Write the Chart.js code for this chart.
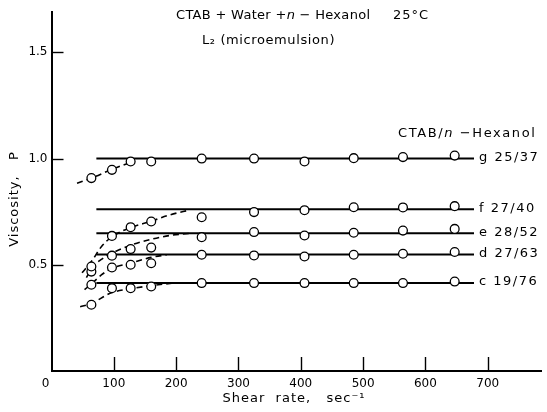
<!DOCTYPE html>
<html>
<head>
<meta charset="utf-8">
<title>Viscosity vs shear rate</title>
<script src="https://cdn.jsdelivr.net/npm/chart.js@4.4.1/dist/chart.umd.min.js"></script>
<style>
  html, body { margin: 0; padding: 0; background: #fff; }
  #chart { display: block; }
</style>
</head>
<body>
<canvas id="chart" width="547" height="412"></canvas>
<script>
// Data
const shearRates = [64, 97, 127, 160, 241, 325, 406, 485, 564, 647];
const viscG = [0.908, 0.947, 0.986, 0.986, 1.000, 1.000, 0.986, 1.002, 1.007, 1.014];
const viscF = [0.492, 0.636, 0.677, 0.704, 0.724, 0.748, 0.757, 0.771, 0.770, 0.776];
const viscE = [0.468, 0.543, 0.574, 0.581, 0.630, 0.654, 0.638, 0.651, 0.661, 0.669];
const viscD = [0.406, 0.487, 0.500, 0.507, 0.547, 0.544, 0.539, 0.547, 0.552, 0.560];
const viscC = [0.312, 0.390, 0.390, 0.398, 0.414, 0.414, 0.414, 0.414, 0.414, 0.421];

// Plateau levels (solid lines) and their extent
const seriesNames = ['g 25/37', 'f 27/40', 'e 28/52', 'd 27/63', 'c 19/76'];
const plateauLevels = [1.000, 0.761, 0.649, 0.548, 0.414];
const plateauRange = [72, 678];

// Hand-drawn dashed curves at low shear rate, [shear rate, viscosity]
const dashG = [[41, 0.884], [64, 0.908], [96, 0.948], [127, 0.982]];
const dashF = [[49, 0.462], [64, 0.515], [80, 0.585], [97, 0.632], [127, 0.675], [160, 0.705], [190, 0.735], [222, 0.758]];
const dashE = [[56, 0.440], [66, 0.490], [80, 0.525], [97, 0.555], [130, 0.595], [160, 0.620], [190, 0.638], [222, 0.648]];
const dashD = [[53, 0.383], [64, 0.410], [80, 0.452], [96, 0.482], [127, 0.508], [160, 0.535], [185, 0.547]];
const dashC = [[46, 0.302], [64, 0.318], [96, 0.368], [127, 0.387], [160, 0.402], [193, 0.413]];

// Axes
const xTicks = [0, 100, 200, 300, 400, 500, 600, 700];
const yTicks = [0.5, 1.0, 1.5];
const xMax = 786;
const yMax = 1.69;

const allVisc = [viscG, viscF, viscE, viscD, viscC];
const allDash = [dashG, dashF, dashE, dashD, dashC];

Chart.defaults.font.family = '"DejaVu Sans", sans-serif';
Chart.defaults.color = '#000';

// Build datasets
const datasets = [];
allVisc.forEach((vals) => {
    datasets.push({
        data: shearRates.map((x, i) => ({ x, y: vals[i] })),
        showLine: false,
        pointRadius: 4.4,
        pointBorderWidth: 1.3,
        pointBackgroundColor: '#fff',
        pointBorderColor: '#000',
        order: 0
    });
});
allDash.forEach((pts) => {
    datasets.push({
        data: pts.map(p => ({ x: p[0], y: p[1] })),
        showLine: true,
        borderColor: '#000',
        borderWidth: 1.6,
        borderDash: [6, 4],
        cubicInterpolationMode: 'monotone',
        pointRadius: 0,
        order: 1
    });
});
plateauLevels.forEach((lvl) => {
    datasets.push({
        data: plateauRange.map(x => ({ x, y: lvl })),
        showLine: true,
        borderColor: '#000',
        borderWidth: 2,
        pointRadius: 0,
        order: 2
    });
});

// Text helper: runs of [text, italic]
const drawRuns = (ctx, runs, x, y, size) => {
    let cx = x;
    runs.forEach(([t, it]) => {
        ctx.font = (it ? 'italic ' : '') + size + 'px "DejaVu Sans", sans-serif';
        ctx.fillText(t, cx, y);
        cx += ctx.measureText(t).width;
    });
};

const decorPlugin = {
    id: 'decor',
    afterDraw(chart) {
        const { ctx, scales: { x, y } } = chart;
        ctx.save();
        ctx.strokeStyle = '#000';
        ctx.lineWidth = 1.4;

        // inward tick marks
        xTicks.filter(v => v > 0).forEach(v => {
            const px = Math.round(x.getPixelForValue(v)) + 0.5;
            ctx.beginPath();
            ctx.moveTo(px, y.bottom);
            ctx.lineTo(px, y.bottom - 14);
            ctx.stroke();
        });
        yTicks.forEach(v => {
            const py = Math.round(y.getPixelForValue(v)) + 0.5;
            ctx.beginPath();
            ctx.moveTo(x.left, py);
            ctx.lineTo(x.left + 12, py);
            ctx.stroke();
        });

        ctx.fillStyle = '#000';
        ctx.textBaseline = 'middle';
        ctx.textAlign = 'left';

        // series labels at the end of each plateau line
        ctx.letterSpacing = '1.5px';
        ctx.font = '13px "DejaVu Sans", sans-serif';
        const lx = x.getPixelForValue(plateauRange[1]) + 5;
        seriesNames.forEach((name, i) => {
            ctx.fillText(name, lx, y.getPixelForValue(plateauLevels[i]) - 1);
        });

        // legend heading
        ctx.letterSpacing = '1.6px';
        drawRuns(ctx, [['CTAB/', false], ['n', true], [' −Hexanol', false]], 398, 134, 13);

        // title
        ctx.letterSpacing = '0.3px';
        drawRuns(ctx, [['CTAB + Water +', false], ['n', true], [' − Hexanol', false]], 176, 16, 13);
        ctx.letterSpacing = '1px';
        drawRuns(ctx, [['25°C', false]], 393, 16, 13);
        ctx.letterSpacing = '0.6px';
        drawRuns(ctx, [['L₂ (microemulsion)', false]], 202, 41, 13);

        // axis titles
        ctx.letterSpacing = '1px';
        ctx.textAlign = 'center';
        ctx.font = '13px "DejaVu Sans", sans-serif';
        ctx.fillText('Shear  rate,   sec⁻¹', 294, 399);

        ctx.save();
        ctx.translate(15, 199);
        ctx.rotate(-Math.PI / 2);
        ctx.fillText('Viscosity,   P', 0, 0);
        ctx.restore();

        ctx.restore();
    }
};

new Chart(document.getElementById('chart'), {
    type: 'scatter',
    data: { datasets },
    options: {
        responsive: false,
        devicePixelRatio: 1,
        animation: false,
        events: [],
        layout: { padding: { top: 12, right: 0, left: 0, bottom: 0 } },
        plugins: {
            legend: { display: false },
            tooltip: { enabled: false }
        },
        scales: {
            x: {
                type: 'linear',
                min: 0,
                max: xMax,
                afterFit: (s) => { s.height = 41; },
                afterBuildTicks: (s) => { s.ticks = xTicks.map(v => ({ value: v })); },
                grid: { display: false, drawTicks: false },
                border: { display: true, color: '#000', width: 2 },
                ticks: {
                    autoSkip: false,
                    maxRotation: 0,
                    padding: 6,
                    font: { size: 12 },
                    callback: (v) => (v === 0 ? '0\u2003' : String(v))
                }
            },
            y: {
                type: 'linear',
                min: 0,
                max: yMax,
                afterFit: (s) => { s.width = 51.5; },
                afterBuildTicks: (s) => { s.ticks = yTicks.map(v => ({ value: v })); },
                grid: { display: false, drawTicks: false },
                border: { display: true, color: '#000', width: 2 },
                ticks: {
                    padding: 4,
                    font: { size: 12 },
                    callback: (v) => v.toFixed(1)
                }
            }
        }
    },
    plugins: [decorPlugin]
});
</script>
</body>
</html>
